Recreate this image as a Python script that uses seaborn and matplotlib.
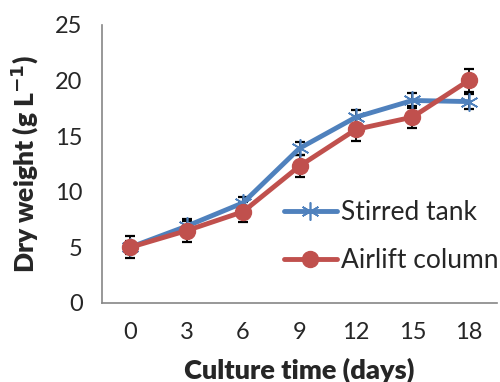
import matplotlib
matplotlib.use("Agg")
import matplotlib.pyplot as plt
import seaborn as sns
import pandas as pd
import numpy as np

days = ["0", "3", "6", "9", "12", "15", "18"]
stirred = [5.0, 6.9, 9.0, 13.9, 16.7, 18.2, 18.1]
stirred_err = [0.6, 0.5, 0.5, 0.6, 0.6, 0.65, 0.7]
airlift = [5.0, 6.5, 8.2, 12.3, 15.6, 16.7, 20.0]
airlift_err = [1.0, 1.0, 0.9, 1.0, 1.0, 1.0, 1.0]
series_names = ["Stirred tank", "Airlift column"]

sns.set_style("white")
plt.rcParams['font.family'] = ['Lato', 'DejaVu Sans']

blue = "#4F81BD"
red = "#C0504D"
grey = "#868686"

pos = np.arange(len(days))

fig = plt.figure(figsize=(5.0, 3.82), dpi=100)
ax = fig.add_axes([0.204, 0.207, 0.790, 0.728])

for vals, errs in [(stirred, stirred_err), (airlift, airlift_err)]:
    ax.errorbar(pos, vals, yerr=errs, fmt="none", ecolor="black",
                elinewidth=1.3, capsize=3.8, capthick=1.6, zorder=2)

for name, vals, col, mk, ms, mew in [(series_names[0], stirred, blue, (6, 2, 0), 13, 1.2),
                                     (series_names[1], airlift, red, "o", 11.5, 1.0)]:
    d = pd.DataFrame({"pos": pos, "value": vals})
    sns.lineplot(data=d, x="pos", y="value", color=col, marker=mk,
                 linewidth=3.5, markersize=ms, markeredgewidth=mew,
                 markeredgecolor=col, markerfacecolor=col,
                 label=name, ax=ax, zorder=3)

ax.set_xlim(-0.5, 6.5)
ax.set_ylim(0, 25)
ax.set_yticks(range(0, 26, 5))
ax.set_xticks(np.arange(-0.5, 7.0, 1.0))
ax.set_xticklabels([])
ax.set_xticks(pos, minor=True)
ax.set_xticklabels(days, minor=True)
ax.tick_params(axis="x", which="minor", length=0, pad=14, labelsize=17)
ax.tick_params(axis="x", which="major", length=6, width=1.2, color=grey, direction="out")
ax.tick_params(axis="y", length=6, width=1.2, color=grey, direction="out", labelsize=17, pad=8)

for s in ["top", "right"]:
    ax.spines[s].set_visible(False)
for s in ["left", "bottom"]:
    ax.spines[s].set_color(grey)
    ax.spines[s].set_linewidth(1.2)

ax.set_xlabel("Culture time (days)", fontsize=19.5, fontweight="heavy", labelpad=10)
ax.set_ylabel("Dry weight (g L$^{\\mathbf{-1}}$)", fontsize=19, fontweight="heavy", labelpad=10)

handles, labels = ax.get_legend_handles_labels()
leg = ax.legend(handles, labels, loc="lower right", bbox_to_anchor=(1.03, 0.07),
                frameon=False, fontsize=19, handlelength=2.0, handletextpad=0.15,
                labelspacing=0.85, borderaxespad=0)

fig.savefig("out.png", dpi=100)
